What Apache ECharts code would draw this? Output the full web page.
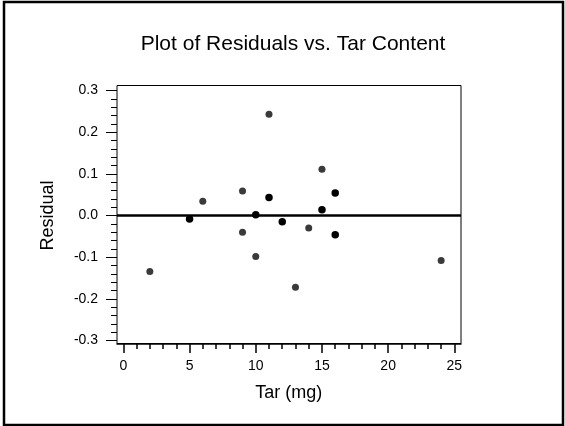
<!DOCTYPE html>
<html>
<head>
<meta charset="utf-8">
<script src="https://cdn.jsdelivr.net/npm/echarts@6/dist/echarts.min.js"></script>
<style>
  html, body { margin: 0; padding: 0; background: #fff; }
  #chart { width: 565px; height: 426px; }
</style>
</head>
<body>
<div id="chart"></div>
<script>
    // residuals, one [tar, residual] pair per point
    var singlePoints = [
        [2, -0.134], [6, 0.034], [9, 0.059], [9, -0.040], [10, -0.098],
        [11, 0.243], [13, -0.172], [14, -0.030], [15, 0.111], [24, -0.108]
    ];
    // points drawn darker (overlapping observations)
    var darkPoints = [
        [5, -0.008], [10, 0.002], [11, 0.043], [12, -0.015],
        [15, 0.014], [16, 0.054], [16, -0.046]
    ];
    var xTicks = [0, 25, 5];      // min, max, interval
    var yTicks = [-0.3, 0.3, 0.1];

    var font = 'Liberation Sans, Arial, Helvetica, sans-serif';
    var chart = echarts.init(document.getElementById('chart'));

    // box grid: x -0.48..25.5, y -0.307..0.312 ; tick grid: exact 0..25 / -0.3..0.3
    var option = {
        animation: false,
        textStyle: { fontFamily: font },
        title: {
            text: 'Plot of Residuals vs. Tar Content',
            left: 288,
            top: 29,
            textAlign: 'center',
            textStyle: { fontFamily: font, fontSize: 21, fontWeight: 'normal', color: '#000' }
        },
        graphic: [{
            type: 'rect',
            shape: { x: 4, y: 2, width: 559, height: 423 },
            style: { fill: null, stroke: '#000', lineWidth: 2.5 },
            silent: true
        }],
        grid: [
            { left: 117, top: 85.5, width: 344, height: 258, show: true, borderColor: '#000', borderWidth: 1 },
            { left: 123.36, top: 90.5, width: 331, height: 250 }
        ],
        xAxis: [{
            gridIndex: 0, type: 'value', min: -0.48, max: 25.5,
            axisLine: { show: true, onZero: false, lineStyle: { color: '#000', width: 1.5 } },
            axisTick: { show: false }, axisLabel: { show: false }, splitLine: { show: false }
        }, {
            gridIndex: 1, type: 'value', min: xTicks[0], max: xTicks[1], interval: xTicks[2],
            offset: 3.5,
            name: 'Tar (mg)', nameLocation: 'middle', nameGap: 40,
            nameTextStyle: { fontFamily: font, fontSize: 18, color: '#000' },
            axisLine: { show: false, onZero: false },
            axisTick: { show: true, length: 9, lineStyle: { color: '#000', width: 1.5 } },
            minorTick: { show: true, splitNumber: 5, length: 5, lineStyle: { color: '#000', width: 1.5 } },
            axisLabel: { fontFamily: font, fontSize: 14, color: '#000', margin: 15 },
            splitLine: { show: false }
        }],
        yAxis: [{
            gridIndex: 0, type: 'value', min: -0.307, max: 0.312,
            axisLine: { show: false, onZero: false }, axisTick: { show: false }, axisLabel: { show: false },
            splitLine: { show: false }
        }, {
            gridIndex: 1, type: 'value', min: yTicks[0], max: yTicks[1], interval: yTicks[2],
            offset: 6.36,
            name: 'Residual', nameLocation: 'middle', nameGap: 60, nameRotate: 90,
            nameTextStyle: { fontFamily: font, fontSize: 18, color: '#000' },
            axisLine: { show: false, onZero: false },
            axisTick: { show: true, length: 11, lineStyle: { color: '#000', width: 1 } },
            minorTick: { show: true, splitNumber: 5, length: 6, lineStyle: { color: '#000', width: 1 } },
            axisLabel: {
                fontFamily: font, fontSize: 14, color: '#000', margin: 19,
                formatter: function (v) { return v.toFixed(1); }
            },
            splitLine: { show: false }
        }],
        series: [{
            type: 'scatter', xAxisIndex: 0, yAxisIndex: 0,
            symbolSize: 7,
            itemStyle: { color: '#3a3a3a', opacity: 1 },
            data: singlePoints,
            markLine: {
                silent: true, symbol: 'none',
                label: { show: false },
                lineStyle: { color: '#000', width: 2.5, type: 'solid' },
                data: [{ yAxis: 0 }]
            }
        }, {
            type: 'scatter', xAxisIndex: 0, yAxisIndex: 0,
            symbolSize: 7.5,
            itemStyle: { color: '#000', opacity: 1 },
            data: darkPoints
        }, {
            // empty series so the tick grid axes get drawn
            type: 'scatter', xAxisIndex: 1, yAxisIndex: 1, data: []
        }]
    };
    chart.setOption(option);
</script>
</body>
</html>
